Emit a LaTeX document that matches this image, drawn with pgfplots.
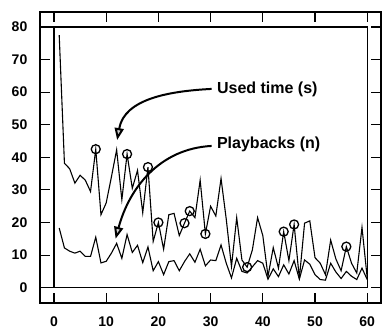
\documentclass[border=0pt]{standalone}
\usepackage{fontspec}
\setmainfont{Liberation Sans}
\usepackage{pgfplots}
\pgfplotsset{compat=1.18}
\usepackage{pgfplotstable}
\usetikzlibrary{arrows.meta}
\pgfplotstableread{
x y
1 77.5
2 38.2
3 36.5
4 32.1
5 34.5
6 33.0
7 29.5
8 42.5
9 22.4
10 26.0
11 34.0
12 42.3
13 27.0
14 41.0
15 30.5
16 36.0
17 23.0
18 37.0
19 14.2
20 20.0
21 11.8
22 22.4
23 22.8
24 16.0
25 19.8
26 23.5
27 21.5
28 33.0
29 16.5
30 25.0
31 22.0
32 33.5
33 21.0
34 6.5
35 21.5
36 8.5
37 6.3
38 11.6
39 21.5
40 16.0
41 3.5
42 12.3
43 6.0
44 17.2
45 8.3
46 19.4
47 2.8
48 19.8
49 20.5
50 9.2
51 7.5
52 4.0
53 14.6
54 8.8
55 5.2
56 12.6
57 7.5
58 4.5
59 18.5
60 3.0
}\usedtime
\pgfplotstableread{
x y
1 18.3
2 12.2
3 11.2
4 10.6
5 11.2
6 9.6
7 9.6
8 15.5
9 7.6
10 8.1
11 10.6
12 13.6
13 9.0
14 16.3
15 10.8
16 13.0
17 7.7
18 12.5
19 5.2
20 8.0
21 4.0
22 8.0
23 8.3
24 5.2
25 8.0
26 10.4
27 7.8
28 11.8
29 6.7
30 8.5
31 8.3
32 13.1
33 7.5
34 3.0
35 9.0
36 5.0
37 4.5
38 6.4
39 8.3
40 7.5
41 2.6
42 5.8
43 3.4
44 7.0
45 4.2
46 8.3
47 2.6
48 8.5
49 7.2
50 4.0
51 2.5
52 2.3
53 7.5
54 4.8
55 2.8
56 5.0
57 3.5
58 2.5
59 6.0
60 2.5
}\playbacks
\pgfplotstableread{
x y
8 42.5
14 41.0
18 37.0
20 20.0
25 19.8
26 23.5
29 16.5
37 6.3
44 17.2
46 19.4
56 12.6
}\circled
\begin{document}
\begin{tikzpicture}
\begin{axis}[
  scale only axis, width=341pt, height=291pt,
  xmin=-2.68, xmax=62.64, ymin=-4.7, ymax=84.6,
  xtick={0,10,...,60}, ytick={0,10,...,80},
  tick align=inside, major tick length=10pt,
  tick style={line width=1.1pt, black},
  axis line style={line width=1.4pt},
  tick label style={font=\fontsize{14}{16}\selectfont\bfseries},
  /pgf/number format/assume math mode=true,
  yticklabel style={anchor=east, inner sep=0pt, xshift=-12.5pt},
  xticklabel style={anchor=north, inner sep=0pt, yshift=-14pt},
  clip=false,
]
\draw[line width=1.4pt] (axis cs:-2.68,80) -- (axis cs:60,80) -- (axis cs:60,0) -- (axis cs:-2.68,0);
\draw[line width=1.4pt] (axis cs:0,0) -- (axis cs:0,80);
\addplot[black, line width=1.1pt, no marks, line join=miter] table {\usedtime};
\addplot[black, line width=1.1pt, no marks, line join=miter] table {\playbacks};
\addplot[only marks, mark=o, mark size=4.5pt, mark options={line width=1.3pt, black}] table {\circled};
\draw[line width=2pt, -{Triangle[length=12pt,width=9pt,fill=gray!40]}] (axis cs:30.2,61) to[out=183,in=80] (axis cs:12.1,45.3);
\draw[line width=2pt, -{Triangle[length=12pt,width=9pt,fill=gray!40]}] (axis cs:30.2,43.5) to[out=183,in=75] (axis cs:11.8,15);
\node[anchor=base west, font=\fontsize{16}{18}\selectfont\bfseries, inner sep=0pt] at (axis cs:31.2,59.6) {Used time (s)};
\node[anchor=base west, font=\fontsize{16}{18}\selectfont\bfseries, inner sep=0pt] at (axis cs:31.2,42.6) {Playbacks (n)};
\end{axis}
\pgfresetboundingbox
\path ([shift={(-40pt,-27pt)}]current axis.south west) rectangle ([shift={(1pt,12pt)}]current axis.north east);
\end{tikzpicture}
\end{document}
